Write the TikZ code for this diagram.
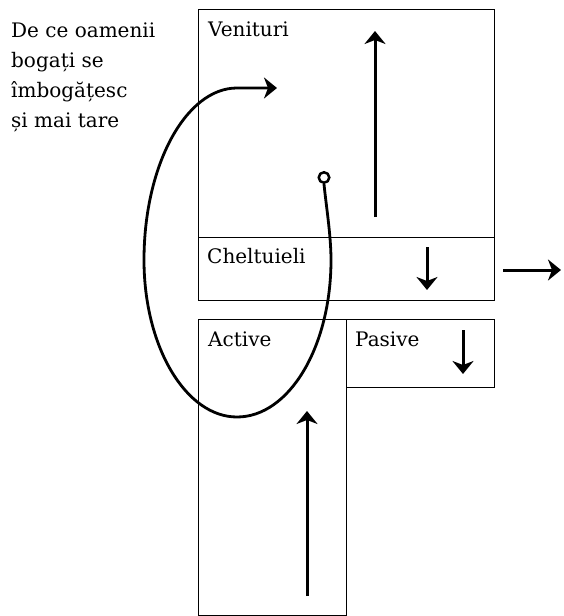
\documentclass[tikz,border=0pt]{standalone}
\usepackage{fontspec}
\setmainfont{DejaVu Serif}
\usetikzlibrary{arrows.meta}

\begin{document}
\begin{tikzpicture}[x=1pt,y=-1pt,font=\fontsize{20}{29.7}\selectfont,
    flow/.style={line width=3pt,-{Stealth[length=13pt,width=21pt,inset=4pt]}}]

      \useasboundingbox (0,0) rectangle (563,616);

      \begin{scope}[every node/.style={draw,line width=1pt,anchor=north west,inner sep=0pt,outer sep=0pt}]
        \node[minimum width=296pt,minimum height=228pt] (ven)  at (198,9)   {};
        \node[minimum width=296pt,minimum height=63pt]  (chel) at (198,237) {};
        \node[minimum width=148pt,minimum height=296pt] (act)  at (198,319) {};
        \node[minimum width=148pt,minimum height=68pt]  (pas)  at (346,319) {};
      \end{scope}

      \begin{scope}[every node/.style={anchor=base west,inner sep=0pt}]
        \node (tven)  at (208,36)  {Venituri};
        \node (tchel) at (207,263) {Cheltuieli};
        \node (tact)  at (208,346) {Active};
        \node (tpas)  at (355,346) {Pasive};
        \node[align=left] (titlu) at (11,127) {De ce oamenii\\bogați se\\îmbogățesc\\și mai tare};
      \end{scope}

      \coordinate (v1) at (375,217);
      \coordinate (v2) at (375,31);
      \coordinate (c1) at (427,247);
      \coordinate (c2) at (427,290);
      \coordinate (o1) at (503,270);
      \coordinate (o2) at (561,270);
      \coordinate (p1) at (463,330);
      \coordinate (p2) at (463,374);
      \coordinate (a1) at (307,596);
      \coordinate (a2) at (307,411);
      \coordinate (tip) at (277,88);

      \node[circle,draw,line width=2.5pt,inner sep=0pt,minimum size=10.5pt] (start) at (324,177.5) {};

      \begin{scope}[every edge/.style={draw,flow}]
        \path (v1) edge (v2);
        \path (c1) edge (c2);
        \path (o1) edge (o2);
        \path (p1) edge (p2);
        \path (a1) edge (a2);
      \end{scope}

      \draw[flow,line width=2.8pt] (start.south) .. controls (326,205) and (331,235) .. (331,260)
        .. controls (331,347) and (289,417) .. (237,417)
        .. controls (186,417) and (144,347) .. (144,260)
        .. controls (144,165) and (186,88) .. (237,88) -- (tip);

    \end{tikzpicture}
\end{document}
